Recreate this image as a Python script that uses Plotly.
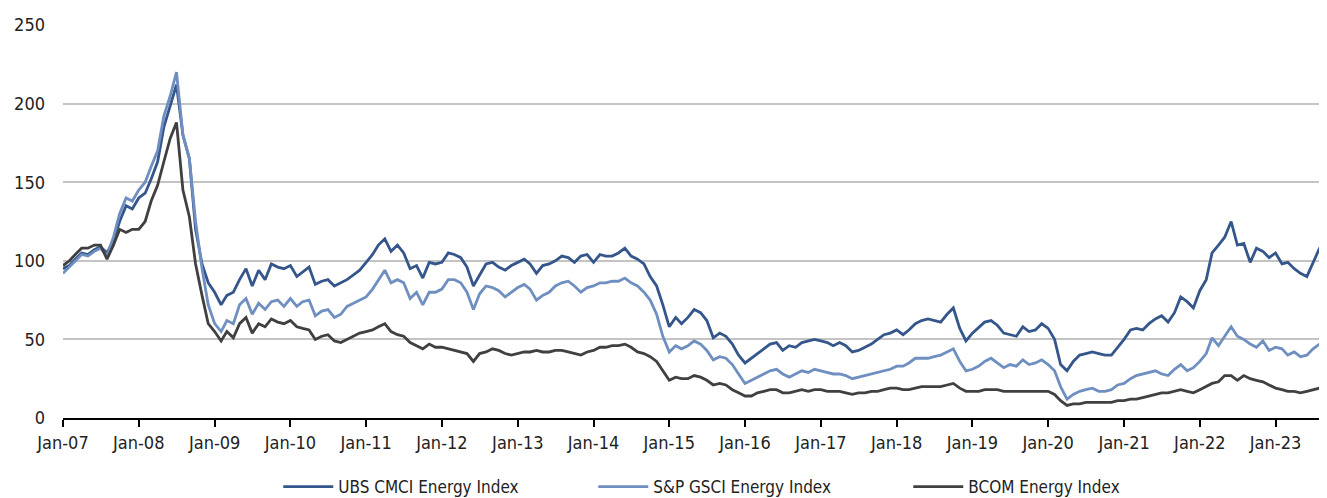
import pandas as pd
import plotly.graph_objects as go

# Monthly readings (start of month), Jan-2007 .. Sep-2023
dates = pd.date_range("2007-01-01", "2023-09-01", freq="MS")

ubs_cmci = [
    95, 97, 101, 105, 104, 107, 109, 105, 113, 125, 135, 133,   # 2007
    140, 143, 152, 163, 185, 198, 212, 180, 165, 120, 98, 86,   # 2008
    80, 72, 78, 80, 88, 95, 84, 94, 88, 98, 96, 95,             # 2009
    97, 90, 93, 96, 85, 87, 88, 84, 86, 88, 91, 94,             # 2010
    99, 104, 110, 114, 106, 110, 105, 95, 97, 89, 99, 98,       # 2011
    99, 105, 104, 102, 96, 84, 91, 98, 99, 96, 94, 97,         # 2012
    99, 101, 98, 92, 97, 98, 100, 103, 102, 99, 103, 104,       # 2013
    99, 104, 103, 103, 105, 108, 103, 101, 98, 90, 84, 72,      # 2014
    58, 64, 60, 64, 69, 67, 62, 51, 54, 52, 47, 40,             # 2015
    35, 38, 41, 44, 47, 48, 43, 46, 45, 48, 49, 50,             # 2016
    49, 48, 46, 48, 46, 42, 43, 45, 47, 50, 53, 54,             # 2017
    56, 53, 56, 60, 62, 63, 62, 61, 66, 70, 57, 49,             # 2018
    54, 58, 61, 62, 59, 54, 53, 52, 58, 55, 56, 60,             # 2019
    57, 50, 34, 30, 36, 40, 41, 42, 41, 40, 40, 45,             # 2020
    50, 56, 57, 56, 60, 63, 65, 61, 67, 77, 74, 70,             # 2021
    81, 88, 105, 110, 115, 125, 110, 111, 99, 108, 106, 102,    # 2022
    105, 98, 99, 95, 92, 90, 99, 108, 110,                      # 2023
]

sp_gsci = [
    92, 96, 100, 104, 103, 106, 108, 103, 115, 130, 140, 138,   # 2007
    145, 150, 160, 170, 192, 205, 220, 180, 165, 125, 95, 72,   # 2008
    60, 55, 62, 60, 72, 76, 66, 73, 69, 74, 75, 71,             # 2009
    76, 71, 74, 75, 65, 68, 69, 64, 66, 71, 73, 75,             # 2010
    77, 82, 88, 94, 86, 88, 86, 76, 80, 72, 80, 80,             # 2011
    82, 88, 88, 86, 80, 69, 79, 84, 83, 81, 77, 80,             # 2012
    83, 85, 82, 75, 78, 80, 84, 86, 87, 84, 80, 83,             # 2013
    84, 86, 86, 87, 87, 89, 86, 84, 80, 75, 66, 52,             # 2014
    42, 46, 44, 46, 49, 47, 43, 37, 39, 38, 34, 28,             # 2015
    22, 24, 26, 28, 30, 31, 28, 26, 28, 30, 29, 31,             # 2016
    30, 29, 28, 28, 27, 25, 26, 27, 28, 29, 30, 31,             # 2017
    33, 33, 35, 38, 38, 38, 39, 40, 42, 44, 36, 30,             # 2018
    31, 33, 36, 38, 35, 32, 34, 33, 37, 34, 35, 37,             # 2019
    34, 30, 20, 12, 15, 17, 18, 19, 17, 17, 18, 21,             # 2020
    22, 25, 27, 28, 29, 30, 28, 27, 31, 34, 30, 32,             # 2021
    36, 41, 51, 46, 52, 58, 52, 50, 47, 45, 49, 43,             # 2022
    45, 44, 40, 42, 39, 40, 44, 47, 50,                         # 2023
]

bcom = [
    97, 100, 104, 108, 108, 110, 110, 101, 110, 120, 118, 120,  # 2007
    120, 125, 138, 148, 163, 178, 188, 145, 128, 98, 78, 60,    # 2008
    55, 49, 55, 51, 60, 64, 54, 60, 58, 63, 61, 60,             # 2009
    62, 58, 57, 56, 50, 52, 53, 49, 48, 50, 52, 54,             # 2010
    55, 56, 58, 60, 55, 53, 52, 48, 46, 44, 47, 45,             # 2011
    45, 44, 43, 42, 41, 36, 41, 42, 44, 43, 41, 40,             # 2012
    41, 42, 42, 43, 42, 42, 43, 43, 42, 41, 40, 42,             # 2013
    43, 45, 45, 46, 46, 47, 45, 42, 41, 39, 36, 30,             # 2014
    24, 26, 25, 25, 27, 26, 24, 21, 22, 21, 18, 16,             # 2015
    14, 14, 16, 17, 18, 18, 16, 16, 17, 18, 17, 18,             # 2016
    18, 17, 17, 17, 16, 15, 16, 16, 17, 17, 18, 19,             # 2017
    19, 18, 18, 19, 20, 20, 20, 20, 21, 22, 19, 17,             # 2018
    17, 17, 18, 18, 18, 17, 17, 17, 17, 17, 17, 17,             # 2019
    17, 15, 11, 8, 9, 9, 10, 10, 10, 10, 10, 11,                # 2020
    11, 12, 12, 13, 14, 15, 16, 16, 17, 18, 17, 16,             # 2021
    18, 20, 22, 23, 27, 27, 24, 27, 25, 24, 23, 21,             # 2022
    19, 18, 17, 17, 16, 17, 18, 19, 19,                         # 2023
]

series_names = ["UBS CMCI Energy Index", "S&P GSCI Energy Index", "BCOM Energy Index"]
series_colors = ["#34568B", "#6F8FC0", "#404040"]

tick_years = list(range(2007, 2024))
tick_vals = [pd.Timestamp(f"{y}-01-01") for y in tick_years]
tick_text = [f"Jan-{str(y)[2:]}" for y in tick_years]

FONT = "DejaVu Sans Condensed, Liberation Sans Narrow, sans-serif"

fig = go.Figure()
for name, vals, col in zip(series_names, [ubs_cmci, sp_gsci, bcom], series_colors):
    fig.add_trace(go.Scatter(x=dates, y=vals, mode="lines", name=name,
                             line=dict(color=col, width=2.8)))

fig.update_layout(
    width=1327, height=498,
    margin=dict(l=55, r=8, t=17, b=88, autoexpand=False),
    plot_bgcolor="white", paper_bgcolor="white",
    font=dict(family=FONT, size=18, color="#222222"),
    showlegend=True,
    legend=dict(orientation="h", x=0.1703, xanchor="left", y=-0.1756, yanchor="middle",
                itemwidth=50, entrywidth=250, entrywidthmode="pixels",
                font=dict(family=FONT, size=17, color="#222222"),
                bgcolor="rgba(0,0,0,0)"),
)
fig.update_xaxes(
    range=[pd.Timestamp("2007-01-01"), pd.Timestamp("2023-09-06")],
    tickvals=tick_vals, ticktext=tick_text, automargin=False,
    showgrid=False, showline=True, linecolor="black", linewidth=2,
    ticks="outside", ticklen=7, tickwidth=2, tickcolor="black",
    zeroline=False, tickfont=dict(size=18),
)
fig.update_yaxes(
    range=[0, 250], tickvals=[0, 50, 100, 150, 200, 250], automargin=False,
    showgrid=True, gridcolor="#C4C4C4", gridwidth=2,
    zeroline=False, showline=False, ticks="", ticklabelstandoff=17,
    tickfont=dict(size=18),
)

fig.write_html("out.html")
